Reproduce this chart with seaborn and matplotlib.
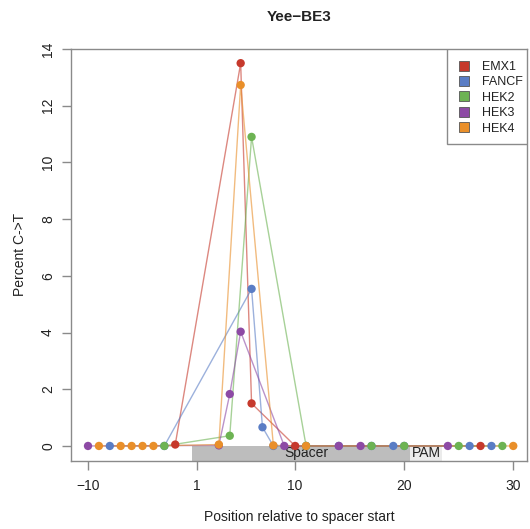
import numpy as np
import pandas as pd
import matplotlib
matplotlib.use("Agg")
import matplotlib.pyplot as plt
from matplotlib.patches import Rectangle
from matplotlib.lines import Line2D
import seaborn as sns

# ---- data (position relative to spacer start, percent C->T) ----
sites = ["EMX1", "FANCF", "HEK2", "HEK3", "HEK4"]
colors = ["#c6392c", "#5a7dc5", "#6db353", "#8d4aa5", "#e98f2a"]

emx1_pos = [-2, 5, 6, 10, 27]
emx1_val = [0.05, 13.5, 1.5, 0.0, 0.0]

fancf_pos = [-8, -3, 6, 7, 8, 11, 14, 17, 19, 20, 26, 28]
fancf_val = [0.0, 0.0, 5.54, 0.66, 0.0, 0.0, 0.0, 0.0, 0.0, 0.0, 0.0, 0.0]

hek2_pos = [-3, 4, 6, 11, 17, 20, 25, 29]
hek2_val = [0.0, 0.36, 10.9, 0.0, 0.0, 0.0, 0.0, 0.0]

hek3_pos = [-10, 3, 4, 5, 9, 14, 16, 24]
hek3_val = [0.0, 0.02, 1.83, 4.03, 0.0, 0.0, 0.0, 0.0]

hek4_pos = [-9, -7, -6, -5, -4, 3, 5, 8, 11, 30]
hek4_val = [0.0, 0.0, 0.0, 0.0, 0.0, 0.05, 12.73, 0.02, 0.0, 0.0]

tick_positions = [-10, 1, 10, 20, 30]
tick_labels = ["\u221210", "1", "10", "20", "30"]
y_ticks = [0, 2, 4, 6, 8, 10, 12, 14]


def to_axis(p):
    # position 0 does not exist: -1 is followed directly by 1
    p = np.asarray(p)
    return np.where(p < 0, p + 10, p + 9)


frames = []
for name, pos, val in zip(sites,
                          [emx1_pos, fancf_pos, hek2_pos, hek3_pos, hek4_pos],
                          [emx1_val, fancf_val, hek2_val, hek3_val, hek4_val]):
    frames.append(pd.DataFrame({"site": name, "pos": pos, "x": to_axis(pos), "pct": val}))
df = pd.concat(frames, ignore_index=True)

sns.set_theme(style="white")
plt.rcParams["font.family"] = ["Liberation Sans", "DejaVu Sans"]

W, H = 530, 529
AX_L, AX_R, AX_T, AX_B = 71, 527, 49, 460.7
fig = plt.figure(figsize=(W / 100, H / 100), dpi=100)
ax = fig.add_axes([AX_L / W, 1 - AX_B / H, (AX_R - AX_L) / W, (AX_B - AX_T) / H])

ymin, ymax = -0.52, 14.0
# spacer / PAM boxes
ax.add_patch(Rectangle((to_axis(1) - 0.5, ymin), 20, 0 - ymin, facecolor="#bdbdbd",
                       edgecolor="none", zorder=1))
ax.add_patch(Rectangle((to_axis(21) - 0.5, ymin), 3, 0 - ymin, facecolor="#ebebeb",
                       edgecolor="none", zorder=1))
ax.text(to_axis(11), -0.25, "Spacer", ha="center", va="center", fontsize=10,
        color="#222222", zorder=2)
ax.text(to_axis(22), -0.25, "PAM", ha="center", va="center", fontsize=10,
        color="#222222", zorder=2)

pal = dict(zip(sites, colors))
sns.lineplot(data=df, x="x", y="pct", hue="site", hue_order=sites, palette=pal,
             estimator=None, sort=True, linewidth=1.0, alpha=0.6, legend=False,
             ax=ax, zorder=3)
sns.scatterplot(data=df, x="x", y="pct", hue="site", hue_order=sites, palette=pal,
                s=36, linewidth=0, legend=False, ax=ax, zorder=4)

ax.set_xlim(-1.56, 40.26)
ax.set_ylim(ymin, ymax)
ax.set_xticks(to_axis(tick_positions))
ax.set_xticklabels(tick_labels)
ax.set_yticks(y_ticks)
ax.set_yticklabels([str(v) for v in y_ticks], rotation=90, va="center")

for s in ax.spines.values():
    s.set_color("#8a8a8a")
    s.set_linewidth(1.0)
ax.tick_params(axis="both", direction="out", length=6.5, width=1.0, color="#8a8a8a",
               labelsize=10, labelcolor="#222222", bottom=True, left=True)
ax.tick_params(axis="x", pad=7)
ax.tick_params(axis="y", pad=5)

ax.set_xlabel("Position relative to spacer start", fontsize=10, color="#222222", labelpad=12)
ax.set_ylabel("Percent C->T", fontsize=10, color="#222222", labelpad=10)
ax.set_title("Yee\u2212BE3", fontsize=11, fontweight="bold", color="#222222", pad=20)

# legend: frame drawn as a rectangle in pixel-matched axes coordinates
def ax_x(px):
    return (px - AX_L) / (AX_R - AX_L)


def ax_y(py):
    return 1 - (py - AX_T) / (AX_B - AX_T)


ax.add_patch(Rectangle((ax_x(447), ax_y(144)), ax_x(527) - ax_x(447), ax_y(49) - ax_y(144),
                       transform=ax.transAxes, facecolor="white", edgecolor="#8a8a8a",
                       linewidth=1.0, zorder=5))
handles = [Line2D([0], [0], marker="s", linestyle="none", markersize=7,
                  markerfacecolor=c, markeredgecolor="#555555", markeredgewidth=0.6)
           for c in colors]
leg = ax.legend(handles, sites, loc="upper left", bbox_to_anchor=(ax_x(458), ax_y(61)),
                borderaxespad=0, borderpad=0, fontsize=9, frameon=False,
                handlelength=0.9, handletextpad=1.0, labelspacing=0.27)
leg.set_zorder(6)
for t in leg.get_texts():
    t.set_color("#222222")

fig.savefig("out.png", dpi=100, facecolor="white")
